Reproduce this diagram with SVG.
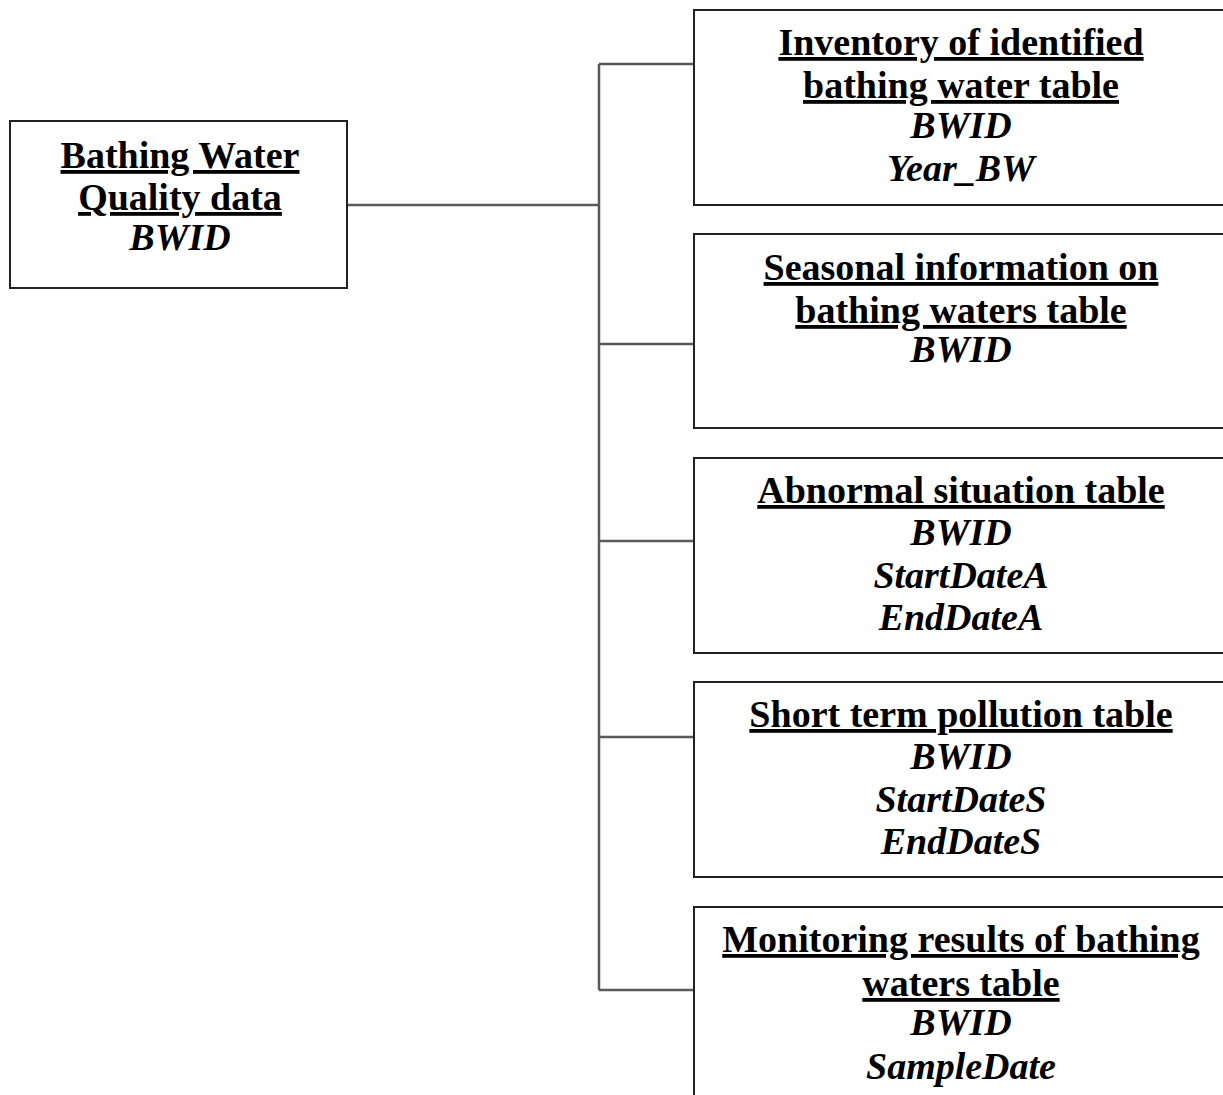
<svg xmlns="http://www.w3.org/2000/svg" width="1223" height="1095" viewBox="0 0 1223 1095">
<style>
.box{fill:#fff;stroke:#222;stroke-width:2}
.t{font-family:"Liberation Serif","Times New Roman",serif;font-size:38px;font-weight:bold;fill:#000;text-anchor:middle}
.u{text-decoration:underline}
.i{font-style:italic}
.c{fill:none;stroke:#5a5a5a;stroke-width:2.5}
</style>
<rect width="1223" height="1095" fill="#fff"/>
<g id="connectors">
<path class="c" d="M347 205 H599"/>
<path class="c" d="M599 64 V990"/>
<path class="c" d="M599 64 H694 M599 344 H694 M599 541 H694 M599 737 H694 M599 990 H694"/>
</g>
<g id="node-bwq">
<rect class="box" x="10" y="121" width="337" height="167"/>
<text class="t u" x="180" y="168">Bathing Water</text>
<text class="t u" x="180" y="210">Quality data</text>
<text class="t i" x="180" y="250">BWID</text>
</g>
<g id="node-inventory">
<rect class="box" x="694" y="10" width="534" height="195"/>
<text class="t u" x="961" y="55">Inventory of identified</text>
<text class="t u" x="961" y="98">bathing water table</text>
<text class="t i" x="961" y="138">BWID</text>
<text class="t i" x="961" y="181">Year_BW</text>
</g>
<g id="node-seasonal">
<rect class="box" x="694" y="234" width="534" height="194"/>
<text class="t u" x="961" y="280">Seasonal information on</text>
<text class="t u" x="961" y="323">bathing waters table</text>
<text class="t i" x="961" y="362">BWID</text>
</g>
<g id="node-abnormal">
<rect class="box" x="694" y="458" width="534" height="195"/>
<text class="t u" x="961" y="503">Abnormal situation table</text>
<text class="t i" x="961" y="545">BWID</text>
<text class="t i" x="961" y="588">StartDateA</text>
<text class="t i" x="961" y="630">EndDateA</text>
</g>
<g id="node-shortterm">
<rect class="box" x="694" y="682" width="534" height="195"/>
<text class="t u" x="961" y="727">Short term pollution table</text>
<text class="t i" x="961" y="769">BWID</text>
<text class="t i" x="961" y="812">StartDateS</text>
<text class="t i" x="961" y="854">EndDateS</text>
</g>
<g id="node-monitoring">
<rect class="box" x="694" y="907" width="534" height="200"/>
<text class="t u" x="961" y="952">Monitoring results of bathing</text>
<text class="t u" x="961" y="996">waters table</text>
<text class="t i" x="961" y="1035">BWID</text>
<text class="t i" x="961" y="1079">SampleDate</text>
</g>
</svg>
